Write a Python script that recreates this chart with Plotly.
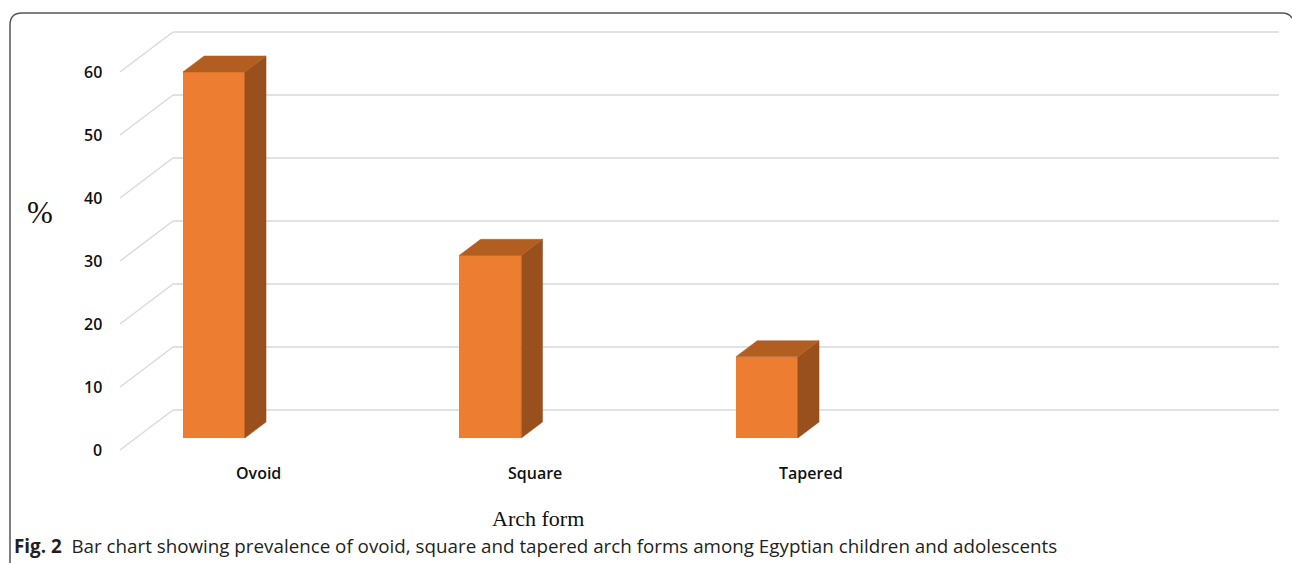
import plotly.graph_objects as go

# ---------------- data ----------------
categories = ["Ovoid", "Square", "Tapered"]
values = [58.1, 29.0, 12.9]
tick_values = [0, 10, 20, 30, 40, 50, 60]
tick_labels = ["0", "10", "20", "30", "40", "50", "60"]
n_slots = 4  # Excel category axis has one empty slot at the right

# ---------------- geometry / style constants ----------------
W, H = 1292, 563
SLOT_PX = 276.5          # pixel width of one category slot (front plane)
UNIT_PX = 6.3            # pixels per value unit
X0_PX = 120              # front plane left edge pixel
Y0_PX = 450              # front plane value-0 pixel
DEPTH_DX = 53 / SLOT_PX  # oblique depth offset in x (slot units)
DEPTH_DY = 40 / UNIT_PX  # oblique depth offset in y (value units)
BAR_W = 0.224
BAR_SHIFT = -0.218
BAR_D0, BAR_D1 = 0.30, 0.70   # bar depth span (fraction of wall depth)

FRONT = "#ED7D31"
TOP = "#B35E21"
SIDE = "#9A501C"
GRID = "#D9D9D9"

# axis ranges so that the whole figure is the data area
x_left = -0.5 - X0_PX / SLOT_PX
x_right = -0.5 + (W - X0_PX) / SLOT_PX
y_bottom = (Y0_PX - H) / UNIT_PX
y_top = Y0_PX / UNIT_PX

fig = go.Figure()

# gridlines: diagonal on left wall + horizontal on back wall (below bars)
for v in tick_values:
    fig.add_shape(type="line", xref="x", yref="y", layer="below",
                  x0=-0.5, y0=v, x1=-0.5 + DEPTH_DX, y1=v + DEPTH_DY,
                  line=dict(color=GRID, width=1.4))
    fig.add_shape(type="line", xref="x", yref="y", layer="below",
                  x0=-0.5 + DEPTH_DX, y0=v + DEPTH_DY,
                  x1=n_slots - 0.5 + DEPTH_DX, y1=v + DEPTH_DY,
                  line=dict(color=GRID, width=1.4))

# 3D bars
for i, (c, v) in enumerate(zip(categories, values)):
    xc = i + BAR_SHIFT
    xl, xr = xc - BAR_W / 2, xc + BAR_W / 2
    dx0, dy0 = BAR_D0 * DEPTH_DX, BAR_D0 * DEPTH_DY
    dx1, dy1 = BAR_D1 * DEPTH_DX, BAR_D1 * DEPTH_DY
    # side face
    fig.add_trace(go.Scatter(
        x=[xr + dx0, xr + dx1, xr + dx1, xr + dx0, xr + dx0],
        y=[dy0, dy1, v + dy1, v + dy0, dy0],
        fill="toself", fillcolor=SIDE, mode="lines",
        line=dict(color=SIDE, width=0.5), hoverinfo="skip", showlegend=False))
    # top face
    fig.add_trace(go.Scatter(
        x=[xl + dx0, xr + dx0, xr + dx1, xl + dx1, xl + dx0],
        y=[v + dy0, v + dy0, v + dy1, v + dy1, v + dy0],
        fill="toself", fillcolor=TOP, mode="lines",
        line=dict(color=TOP, width=0.5), hoverinfo="skip", showlegend=False))
    # front face
    fig.add_trace(go.Bar(
        x=[xc + dx0], y=[v], base=[dy0], width=[BAR_W],
        marker=dict(color=FRONT, line=dict(color=FRONT, width=0)),
        name=c, hoverinfo="skip", showlegend=False))

# tick labels on the value axis
for v, t in zip(tick_values, tick_labels):
    fig.add_annotation(x=-0.5 - 16 / SLOT_PX, y=v, text=t, showarrow=False,
                       xanchor="right", yanchor="middle",
                       font=dict(family="Open Sans", size=16, weight=600, color="#111111"))

# category labels
for i, c in enumerate(categories):
    fig.add_annotation(x=i, y=-23 / UNIT_PX, text=c, showarrow=False,
                       xanchor="center", yanchor="middle",
                       font=dict(family="Open Sans", size=16, weight=600, color="#111111"))

# axis titles
fig.add_annotation(x=40 / W, y=1 - 212 / H, xref="paper", yref="paper",
                   text="%", showarrow=False, xanchor="center", yanchor="middle",
                   font=dict(family="Liberation Serif", size=31, color="#111111"))
fig.add_annotation(x=538 / W, y=1 - 518 / H, xref="paper", yref="paper",
                   text="Arch form", showarrow=False, xanchor="center", yanchor="middle",
                   font=dict(family="Liberation Serif", size=22, color="#111111"))

# figure caption
fig.add_annotation(x=12 / W, y=1 - 546 / H, xref="paper", yref="paper",
                   text="<b>Fig. 2</b>  Bar chart showing prevalence of ovoid, square and tapered arch forms among Egyptian children and adolescents",
                   showarrow=False, xanchor="left", yanchor="middle",
                   font=dict(family="Open Sans", size=18.8, color="#231F20"))

# frame with rounded corner
def px(x, y):
    return f"{x / W:.5f},{1 - y / H:.5f}"

path = (f"M {px(10, 563)} L {px(10, 25)} Q {px(10, 13)} {px(22, 13)} "
        f"L {px(1282, 13)} Q {px(1289, 13)} {px(1292, 18)}")
fig.add_shape(type="path", path=path, xref="paper", yref="paper",
              line=dict(color="#555555", width=1.5))

fig.update_layout(
    width=W, height=H, autosize=False,
    margin=dict(l=0, r=0, t=0, b=0),
    paper_bgcolor="white", plot_bgcolor="white",
    bargap=0,
    xaxis=dict(range=[x_left, x_right], visible=False, fixedrange=True),
    yaxis=dict(range=[y_bottom, y_top], visible=False, fixedrange=True),
)

fig.write_html("out.html")
